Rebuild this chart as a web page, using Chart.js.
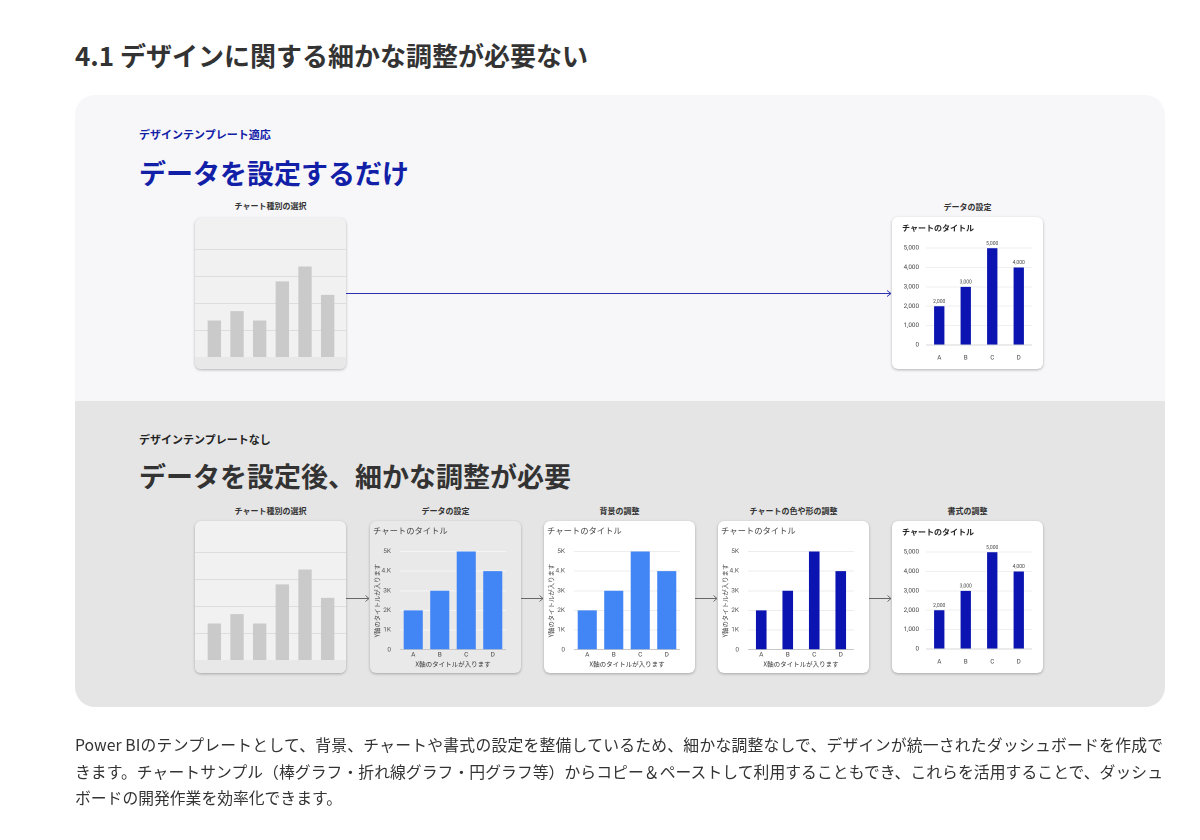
<!DOCTYPE html>
<html lang="ja"><head><meta charset="utf-8">
<script src="https://cdn.jsdelivr.net/npm/chart.js@4/dist/chart.umd.min.js"></script>
<style>
html,body{margin:0;padding:0;background:#fff}
body{width:1200px;height:840px;position:relative;overflow:hidden;font-family:"Noto Sans CJK JP","Noto Sans",sans-serif;color:#333}
.a{position:absolute;white-space:nowrap}
.panel{position:absolute;left:75px;top:95px;width:1090px;height:612px;border-radius:20px;overflow:hidden}
.ptop{position:absolute;left:0;top:0;width:1090px;height:306px;background:#f7f7f9}
.pbot{position:absolute;left:0;top:306px;width:1090px;height:306px;background:#e5e5e5}
.card{position:absolute;width:151px;border-radius:6px;overflow:hidden;box-shadow:0 1px 3px rgba(0,0,0,0.28);background:#fff}
.card canvas{display:block}
.lbl{position:absolute;width:151px;text-align:center;font-size:8px;line-height:8px;font-weight:700;color:#333}
.para{position:absolute;left:75px;top:732px;width:1088px;font-size:15.8px;line-height:26.5px;color:#333}
.para div{white-space:nowrap}
.para .j{text-align:justify;text-align-last:justify;white-space:normal}
</style></head>
<body>
<div class="a" style="left:75px;top:42px;font-size:26px;line-height:26px;font-weight:700;color:#333">4.1 デザインに関する細かな調整が必要ない</div>

<div class="panel"><div class="ptop"></div><div class="pbot"></div></div>

<div class="a" style="left:139px;top:128.5px;font-size:11px;line-height:11px;font-weight:700;color:#1220a8">デザインテンプレート適応</div>
<div class="a" style="left:139px;top:158.5px;font-size:27px;line-height:27px;font-weight:700;color:#1220a8">データを設定するだけ</div>

<div class="a" style="left:139px;top:433.5px;font-size:11px;line-height:11px;font-weight:700;color:#222">デザインテンプレートなし</div>
<div class="a" style="left:139px;top:461.5px;font-size:27px;line-height:27px;font-weight:700;color:#333">データを設定後、細かな調整が必要</div>

<!-- top row -->
<div class="lbl" style="left:195px;top:202px">チャート種別の選択</div>
<div class="card" style="left:195px;top:218px;height:151px;background:#f1f1f1"><canvas id="c1" width="151" height="151"></canvas></div>
<div class="lbl" style="left:892px;top:203px">データの設定</div>
<div class="card" style="left:892px;top:217px;height:152px"><canvas id="c2" width="151" height="152"></canvas></div>

<!-- bottom row -->
<div class="lbl" style="left:195px;top:507px">チャート種別の選択</div>
<div class="card" style="left:195px;top:521px;height:152px;background:#f1f1f1"><canvas id="c3" width="151" height="152"></canvas></div>
<div class="lbl" style="left:370px;top:507px">データの設定</div>
<div class="card" style="left:370px;top:521px;height:152px;background:#e9e9e9"><canvas id="c4" width="151" height="152"></canvas></div>
<div class="lbl" style="left:544px;top:507px">背景の調整</div>
<div class="card" style="left:544px;top:521px;height:152px"><canvas id="c5" width="151" height="152"></canvas></div>
<div class="lbl" style="left:718px;top:507px">チャートの色や形の調整</div>
<div class="card" style="left:718px;top:521px;height:152px"><canvas id="c6" width="151" height="152"></canvas></div>
<div class="lbl" style="left:892px;top:507px">書式の調整</div>
<div class="card" style="left:892px;top:521px;height:152px"><canvas id="c7" width="151" height="152"></canvas></div>

<svg class="a" style="left:0;top:0" width="1200" height="840" fill="none">
  <g stroke="#2a30b0" stroke-width="1">
    <path d="M346 293.5H891"/><path d="M887 290.5L891 293.5L887 296.5"/>
  </g>
  <g stroke="#666" stroke-width="1">
    <path d="M346 598.5H369"/><path d="M365.5 595.5L369 598.5L365.5 601.5"/>
    <path d="M521 598.5H543"/><path d="M539.5 595.5L543 598.5L539.5 601.5"/>
    <path d="M695 598.5H717"/><path d="M713.5 595.5L717 598.5L713.5 601.5"/>
    <path d="M869 598.5H891"/><path d="M887.5 595.5L891 598.5L887.5 601.5"/>
  </g>
</svg>

<div class="para">
<div class="j">Power BIのテンプレートとして、背景、チャートや書式の設定を整備しているため、細かな調整なしで、デザインが統一されたダッシュボードを作成で</div>
<div class="j">きます。チャートサンプル（棒グラフ・折れ線グラフ・円グラフ等）からコピー＆ペーストして利用することもでき、これらを活用することで、ダッシュ</div>
<div>ボードの開発作業を効率化できます。</div>
</div>

<script>
// ---- data ----
const placeholderLabels = ['1', '2', '3', '4', '5', '6'];
const placeholderValues = [1.35, 1.7, 1.35, 2.8, 3.35, 2.3];
const placeholderGrid = [1, 2, 3, 4];
const categories = ['A', 'B', 'C', 'D'];
const values = [2000, 3000, 5000, 4000];
const kTickLabels = ['0', '1K', '2K', '3K', '4.K', '5K'];
const commaTickLabels = ['0', '1,000', '2,000', '3,000', '4,000', '5,000'];
const chartTitle = 'チャートのタイトル';
const yTitle = 'Y軸のタイトルが入ります';
const xTitle = 'X軸のタイトルが入ります';

const JP = '"Noto Sans CJK JP", sans-serif';
const RB = 'Roboto, "Noto Sans", sans-serif';
const LIGHT_BLUE = '#4285f4';
const DARK_BLUE = '#0b14b0';

Chart.defaults.animation = false;
Chart.defaults.responsive = false;
Chart.defaults.devicePixelRatio = 2;
Chart.defaults.plugins.legend.display = false;
Chart.defaults.plugins.tooltip.enabled = false;

const placeholderBg = {
  id: 'placeholderBg',
  beforeDatasetsDraw(chart) {
    const y = chart.scales.y, ctx = chart.ctx;
    const base = y.getPixelForValue(0);
    ctx.save();
    ctx.fillStyle = '#e8e8e8';
    ctx.fillRect(0, base, chart.width, chart.height - base);
    ctx.strokeStyle = '#dddddd';
    ctx.lineWidth = 1;
    placeholderGrid.forEach(v => {
      const py = Math.round(y.getPixelForValue(v)) + 0.5;
      ctx.beginPath(); ctx.moveTo(0, py); ctx.lineTo(chart.width, py); ctx.stroke();
    });
    ctx.restore();
  }
};

const valueLabels = {
  id: 'valueLabels',
  afterDatasetsDraw(chart) {
    const ctx = chart.ctx, meta = chart.getDatasetMeta(0), data = chart.data.datasets[0].data;
    ctx.save();
    ctx.font = '5px ' + RB;
    ctx.fillStyle = '#444';
    ctx.textAlign = 'center';
    ctx.textBaseline = 'bottom';
    meta.data.forEach((bar, i) => ctx.fillText(data[i].toLocaleString('en-US'), bar.x, bar.y - 2));
    ctx.restore();
  }
};

function placeholderChart(id, h) {
  new Chart(document.getElementById(id), {
    type: 'bar',
    data: { labels: placeholderLabels, datasets: [{ data: placeholderValues, backgroundColor: '#cacaca', barPercentage: 0.59, categoryPercentage: 1 }] },
    options: {
      layout: { padding: { left: 8, right: 7, top: 4, bottom: h - 139 } },
      scales: { x: { display: false }, y: { display: false, min: 0, max: 5 } }
    },
    plugins: [placeholderBg]
  });
}

function formattedChart(id) {
  new Chart(document.getElementById(id), {
    type: 'bar',
    data: { labels: categories, datasets: [{ data: values, backgroundColor: DARK_BLUE, barPercentage: 0.39, categoryPercentage: 1 }] },
    options: {
      layout: { padding: { left: 10, right: 11, top: 0, bottom: 0 } },
      plugins: {
        title: { display: true, text: chartTitle, align: 'start', color: '#222',
          font: { family: JP, size: 8, weight: 'bold', lineHeight: 1.2 }, padding: { top: 6, bottom: 15.5 } }
      },
      scales: {
        x: { grid: { display: false, drawTicks: false }, border: { display: false },
          ticks: { font: { family: RB, size: 6.3 }, color: '#444', padding: 9 },
          afterFit: s => { s.height = 24; } },
        y: { min: 0, max: 5000, border: { display: false },
          grid: { drawTicks: false, color: c => c.tick && c.tick.value === 0 ? '#d6d6d6' : '#efefef' },
          ticks: { stepSize: 1000, padding: 7, font: { family: RB, size: 6.3 }, color: '#444',
            callback: (v, i) => commaTickLabels[i] },
          afterFit: s => { s.width = 24; } }
      }
    },
    plugins: [valueLabels]
  });
}

function sheetChart(id, color, pct, gridColor) {
  new Chart(document.getElementById(id), {
    type: 'bar',
    data: { labels: categories, datasets: [{ data: values, backgroundColor: color, barPercentage: pct, categoryPercentage: 1 }] },
    options: {
      layout: { padding: { left: 3, right: 15, top: 0, bottom: 5 } },
      plugins: {
        title: { display: true, text: chartTitle, align: 'start', color: '#444',
          font: { family: JP, size: 8.3, weight: 'normal', lineHeight: 1.2 }, padding: { top: 5, bottom: 15.5 } }
      },
      scales: {
        x: { grid: { display: false, drawTicks: false }, border: { display: false },
          ticks: { font: { family: RB, size: 6.5 }, color: '#444', padding: 1.5 },
          title: { display: true, text: xTitle, color: '#333', font: { family: JP, size: 6.5, lineHeight: 1.2 }, padding: 0 },
          afterFit: s => { s.height = 18.3; } },
        y: { min: 0, max: 5000, border: { display: false },
          grid: { drawTicks: false, color: c => c.tick && c.tick.value === 0 ? '#c8c8c8' : gridColor },
          ticks: { stepSize: 1000, padding: 9, font: { family: RB, size: 6.5 }, color: '#555',
            callback: (v, i) => kTickLabels[i] },
          title: { display: true, text: yTitle, color: '#444', font: { family: JP, size: 6.4, lineHeight: 1.2 }, padding: 0 },
          afterFit: s => { s.width = 27; } }
      }
    }
  });
}

placeholderChart('c1', 151);
formattedChart('c2');
placeholderChart('c3', 152);
sheetChart('c4', LIGHT_BLUE, 0.72, 'rgba(255,255,255,0.55)');
sheetChart('c5', LIGHT_BLUE, 0.72, '#ededed');
sheetChart('c6', DARK_BLUE, 0.4, '#ededed');
formattedChart('c7');
</script>
</body></html>
